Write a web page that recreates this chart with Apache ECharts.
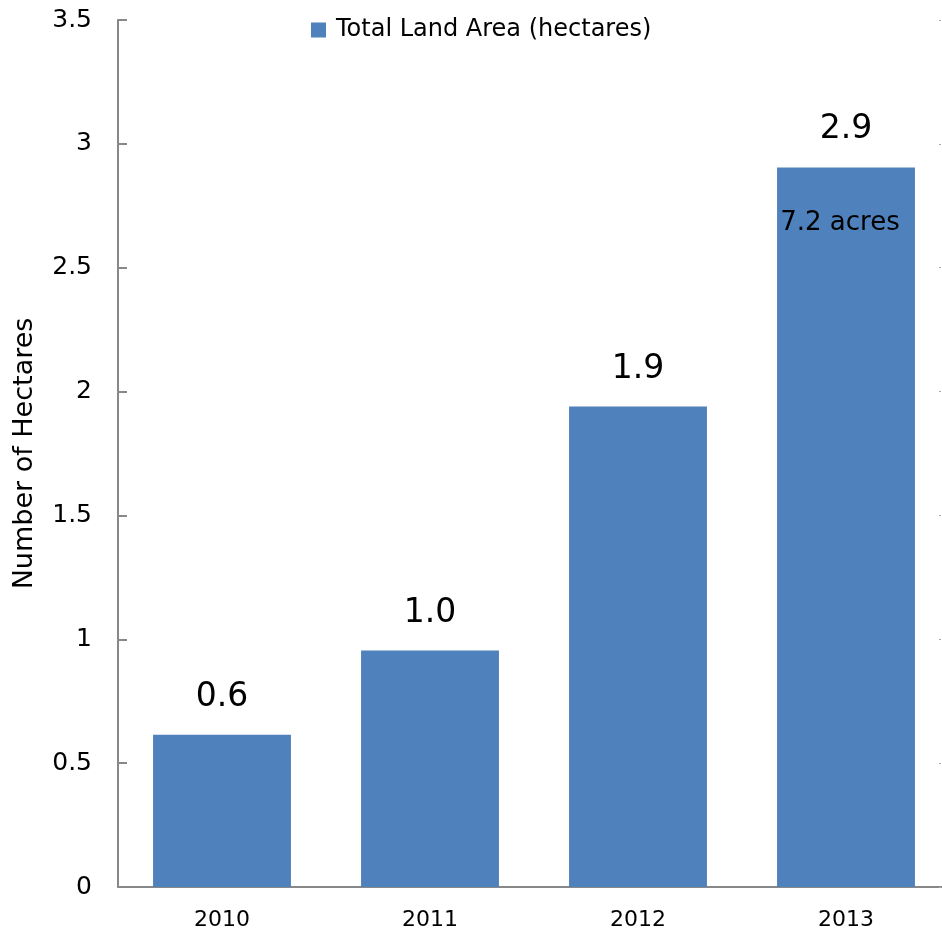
<!DOCTYPE html>
<html>
<head>
<meta charset="utf-8">
<script src="https://cdn.jsdelivr.net/npm/echarts@6/dist/echarts.min.js"></script>
<style>html,body{margin:0;padding:0;background:#fff;}#c{width:942px;height:932px;}</style>
</head>
<body>
<div id="c"></div>
<script>
const categories = ['2010', '2011', '2012', '2013'];
const landArea = [0.615, 0.955, 1.94, 2.905];
const valueLabels = ['0.6', '1.0', '1.9', '2.9'];
const seriesName = 'Total Land Area (hectares)';
const noteText = '7.2 acres';
const noteCategory = '2013';
const noteValue = 2.905;

const FONT = 'DejaVu Sans';
const chart = echarts.init(document.getElementById('c'));
chart.setOption({
  animation: false,
  textStyle: { fontFamily: FONT },
  legend: {
    left: 306, top: 13,
    itemWidth: 15, itemHeight: 15, itemGap: 10,
    textStyle: { fontSize: 24, color: '#000', fontFamily: FONT, padding: [0, 0, 0, 5] },
    data: [{ name: seriesName, icon: 'rect' }]
  },
  grid: { left: 118, right: -8, top: 20, bottom: 45, containLabel: false, outerBoundsMode: 'none' },
  xAxis: {
    type: 'category', data: categories,
    axisLine: { lineStyle: { color: '#888', width: 2 } },
    axisTick: { inside: true, length: 7, lineStyle: { color: '#888' } },
    axisLabel: { fontSize: 22, color: '#000', margin: 22 }
  },
  yAxis: [{
    type: 'value', min: 0, max: 3.5, interval: 0.5,
    name: 'Number of Hectares', nameLocation: 'middle', nameGap: 80,
    nameTextStyle: { fontSize: 27, color: '#000' },
    axisLine: { show: true, lineStyle: { color: '#888', width: 2 } },
    axisTick: { show: true, inside: true, length: 9, lineStyle: { color: '#888', width: 2 } },
    axisLabel: { fontSize: 25, color: '#000', margin: 26 },
    splitLine: { show: false }
  }, {
    type: 'value', min: 0, max: 3.5, interval: 0.5, position: 'right', offset: -9,
    axisLine: { show: false },
    axisTick: { show: true, inside: true, length: 2, lineStyle: { color: '#aaa' } },
    axisLabel: { show: false },
    splitLine: { show: false }
  }],
  series: [{
    name: seriesName, type: 'bar', data: landArea,
    barCategoryGap: '33.7%',
    itemStyle: { color: '#4F81BD' },
    label: {
      show: true, position: 'top', distance: 21, fontSize: 33, color: '#000',
      formatter: p => valueLabels[p.dataIndex]
    },
    markPoint: {
      symbol: 'rect', symbolSize: 1, itemStyle: { color: 'rgba(0,0,0,0)' },
      label: { show: true, position: 'inside', offset: [-6, 56], fontSize: 26, color: '#000', formatter: noteText },
      data: [{ coord: [noteCategory, noteValue] }]
    }
  }]
});
</script>
</body>
</html>
